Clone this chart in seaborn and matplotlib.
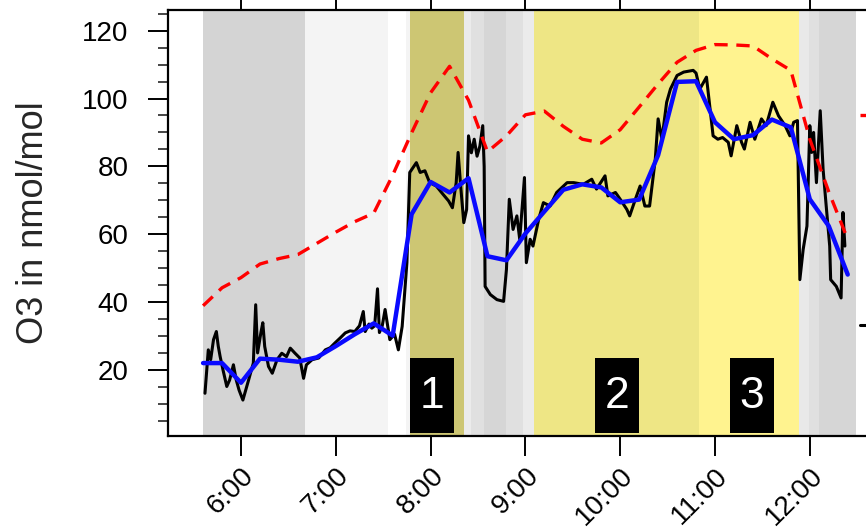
import matplotlib
matplotlib.use("Agg")
import matplotlib.pyplot as plt
from matplotlib.patches import Rectangle
from matplotlib.lines import Line2D
from matplotlib.ticker import MultipleLocator, FixedLocator
import seaborn as sns

# ---- data -----------------------------------------------------------------
# 12-minute averages (decimal hours, local time)
grid_time = [5.6, 5.8, 6.0, 6.2, 6.4, 6.6, 6.8, 7.0, 7.2, 7.4, 7.6, 7.8,
             8.0, 8.2, 8.4, 8.6, 8.8, 9.0, 9.2, 9.4, 9.6, 9.8, 10.0, 10.2,
             10.4, 10.6, 10.8, 11.0, 11.2, 11.4, 11.6, 11.8, 12.0, 12.2, 12.4]
obs_mean = [22.0, 22.0, 16.2, 23.3, 23.0, 22.4, 23.7, 27.0, 30.5, 33.7, 30.1, 65.9,
            75.4, 72.3, 76.5, 53.5, 52.3, 60.2, 66.7, 73.1, 74.7, 73.8, 69.4, 70.2,
            83.3, 104.9, 105.1, 93.0, 88.0, 89.2, 93.8, 91.5, 70.3, 62.4, 48.1]
model_o3 = [38.9, 44.2, 47.2, 51.2, 52.8, 54.0, 57.3, 60.6, 63.7, 66.2, 77.4, 89.9,
            101.7, 109.5, 99.5, 84.3, 89.0, 95.2, 96.3, 91.8, 88.0, 86.9, 90.8, 97.5,
            104.3, 110.7, 114.2, 115.9, 115.8, 115.5, 111.7, 108.3, 88.0, 72.5, 58.5]

# high-resolution in-situ measurements
raw_time = [5.62, 5.655, 5.68, 5.71, 5.74, 5.76, 5.78, 5.81, 5.85, 5.88, 5.92, 5.95,
            5.98, 6.02, 6.05, 6.08, 6.13, 6.155, 6.175, 6.21, 6.23, 6.25, 6.29, 6.33,
            6.38, 6.43, 6.48, 6.52, 6.57, 6.62, 6.66, 6.69, 6.75, 6.82, 6.89, 6.94,
            6.99, 7.05, 7.10, 7.15, 7.20, 7.25, 7.29, 7.31, 7.35, 7.38, 7.41, 7.44,
            7.46, 7.49, 7.52, 7.57, 7.62, 7.66, 7.70, 7.75, 7.78, 7.85, 7.89, 7.94,
            7.99, 8.06, 8.13, 8.19, 8.23, 8.27, 8.29, 8.32, 8.35, 8.38, 8.40, 8.43,
            8.46, 8.49, 8.52, 8.55, 8.565, 8.575, 8.63, 8.70, 8.77, 8.80, 8.83, 8.87,
            8.91, 8.94, 8.99, 9.01, 9.05, 9.08, 9.14, 9.19, 9.26, 9.33, 9.44, 9.51,
            9.61, 9.70, 9.75, 9.84, 9.87, 9.95, 10.0, 10.07, 10.10, 10.16, 10.21, 10.26,
            10.31, 10.37, 10.40, 10.44, 10.49, 10.53, 10.60, 10.67, 10.77, 10.80, 10.84, 10.91,
            10.94, 10.98, 11.03, 11.08, 11.14, 11.17, 11.23, 11.28, 11.31, 11.37, 11.42, 11.49,
            11.54, 11.61, 11.67, 11.74, 11.79, 11.83, 11.87, 11.895, 11.93, 11.97, 12.00, 12.02,
            12.04, 12.07, 12.11, 12.14, 12.17, 12.21, 12.22, 12.28, 12.33, 12.35, 12.37]
raw_o3 = [13.1, 25.9, 23.0, 28.9, 31.3, 27.0, 23.9, 20.0, 15.1, 17.0, 21.5, 17.0,
          14.0, 11.1, 14.0, 17.0, 22.0, 39.2, 25.0, 31.0, 33.9, 26.9, 21.0, 19.0,
          23.0, 24.9, 23.9, 26.4, 24.9, 23.5, 17.5, 21.5, 23.0, 23.5, 25.9, 26.5,
          27.9, 29.5, 30.9, 31.5, 31.3, 33.0, 37.2, 31.3, 33.5, 32.3, 33.0, 43.9,
          31.0, 33.0, 37.8, 28.9, 30.5, 25.9, 32.8, 51.6, 78.2, 81.1, 78.2, 78.7,
          75.2, 74.2, 71.8, 69.8, 67.8, 75.2, 84.1, 73.3, 63.4, 67.3, 89.0, 84.0,
          88.0, 83.0, 86.0, 92.0, 80.0, 44.6, 42.2, 40.7, 40.2, 49.6, 70.3, 61.4,
          65.4, 58.5, 76.7, 51.6, 58.5, 56.5, 64.4, 69.3, 68.3, 72.3, 75.2, 75.2,
          74.7, 76.2, 73.3, 77.2, 71.3, 72.3, 70.3, 67.3, 65.4, 70.3, 74.2, 68.3,
          68.3, 82.1, 94.0, 88.0, 98.9, 102.8, 106.8, 107.8, 108.3, 107.5, 102.8, 106.3,
          98.9, 89.0, 88.0, 88.5, 87.1, 83.1, 92.0, 87.1, 85.1, 93.0, 88.0, 94.0,
          92.0, 98.9, 94.9, 92.0, 89.0, 93.0, 93.5, 46.6, 55.5, 62.4, 92.0, 84.1,
          90.0, 75.2, 96.4, 79.2, 69.3, 56.5, 46.6, 44.6, 41.2, 66.4, 56.5]

# flight-phase shading: start, end (decimal hours)
span_start = [5.60, 6.675, 7.74, 7.783, 8.352, 8.426, 8.563, 8.795, 8.975, 9.091, 10.831,
              11.886, 11.99, 12.097]
span_end = [6.675, 7.551, 7.783, 8.352, 8.426, 8.563, 8.795, 8.975, 9.091, 10.831, 11.886,
            11.99, 12.097, 12.487]
span_color = ["#d4d4d4", "#f4f4f4", "#f4f4f4", "#cdc673", "#ebebeb", "#e0e0e0",
              "#d6d6d6", "#e0e0e0", "#ebebeb", "#eee685", "#fff38f",
              "#e9e9e9", "#e0e0e0", "#d6d6d6"]

# numbered segments
segment_labels = ["1", "2", "3"]
segment_centers = [8.01, 9.97, 11.39]

hour_ticks = [6, 7, 8, 9, 10, 11, 12]
hour_labels = ["6:00", "7:00", "8:00", "9:00", "10:00", "11:00", "12:00"]

# ---- figure ---------------------------------------------------------------
sns.set_theme(style="ticks")
plt.rcParams["font.family"] = ["Liberation Sans", "DejaVu Sans"]

W, H = 866, 530
fig = plt.figure(figsize=(W / 100, H / 100), dpi=100)
ax_left, ax_right, ax_top, ax_bottom = 168, 885, 10, 436
ax = fig.add_axes([ax_left / W, (H - ax_bottom) / H,
                   (ax_right - ax_left) / W, (ax_bottom - ax_top) / H])

px_per_hour = 94.8
x0 = 6 + (ax_left - 241) / px_per_hour
ax.set_xlim(x0, x0 + (ax_right - ax_left) / px_per_hour)
ax.set_ylim(0.5, 126.1)

for s, e, c in zip(span_start, span_end, span_color):
    ax.axvspan(s, e, color=c, lw=0, zorder=0)

sns.lineplot(x=raw_time, y=raw_o3, ax=ax, color="black", lw=2.2, zorder=3)
sns.lineplot(x=grid_time, y=model_o3, ax=ax, color="red", lw=2.4,
             linestyle=(0, (4, 2.6)), zorder=4)
sns.lineplot(x=grid_time, y=obs_mean, ax=ax, color="#0a0aff", lw=3.2, zorder=5)

# numbered boxes
box_w = 44 / px_per_hour
for lab, xc in zip(segment_labels, segment_centers):
    ax.add_patch(Rectangle((xc - box_w / 2, 1.3), box_w, 22.2, facecolor="black",
                           edgecolor="none", zorder=6))
    ax.text(xc, 12.0, lab, color="white", fontsize=32, ha="center", va="center",
            zorder=7)

# axes styling
for side in ["left", "bottom", "top", "right"]:
    ax.spines[side].set_linewidth(1.6)
    ax.spines[side].set_color("black")

ax.yaxis.set_major_locator(MultipleLocator(20))
ax.yaxis.set_minor_locator(MultipleLocator(5))
ax.xaxis.set_major_locator(FixedLocator(hour_ticks))
ax.set_xticklabels(hour_labels, rotation=45, ha="right", rotation_mode="anchor")
ax.tick_params(axis="both", which="major", direction="out", length=14.5, width=1.4,
               labelsize=20, colors="black")
ax.tick_params(axis="y", which="major", pad=14)
ax.tick_params(axis="y", which="minor", direction="out", length=7.5, width=1.2)
ax.tick_params(axis="x", which="major", top=True, pad=5)
ax.tick_params(axis="y", right=False)
ax.set_ylabel("O3 in nmol/mol", fontsize=26, labelpad=22)
ax.set_xlabel("")

# line keys at the right-hand margin
leg1 = ax.legend(handles=[Line2D([], [], color="red", lw=2.4, linestyle=(0, (4, 2.6)))],
                 labels=[""], loc="center left", frameon=False,
                 bbox_to_anchor=(860 / W, 1 - 118 / H), bbox_transform=fig.transFigure,
                 borderpad=0, borderaxespad=0, handlelength=2, fontsize=20)
ax.add_artist(leg1)
ax.legend(handles=[Line2D([], [], color="black", lw=2.2)], labels=[""],
          loc="center left", frameon=False,
          bbox_to_anchor=(860 / W, 1 - 328 / H), bbox_transform=fig.transFigure,
          borderpad=0, borderaxespad=0, handlelength=2, fontsize=20)

fig.savefig("out.png", dpi=100)
